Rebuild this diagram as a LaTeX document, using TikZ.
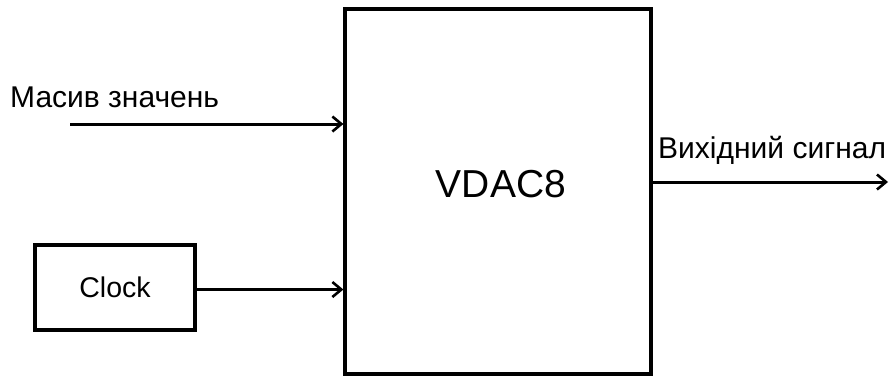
\documentclass[tikz,border=0pt]{standalone}
\usepackage{fontspec}
\setmainfont{Liberation Sans}
\usetikzlibrary{arrows.meta}
\begin{document}
\begin{tikzpicture}[x=1pt,y=-1pt,
  block/.style={draw, line width=3.2pt, inner sep=0pt},
  sig/.style={line width=3pt, -{Straight Barb[length=9pt,width=15pt,line width=2.6pt]}},
  lbl/.style={font=\fontsize{30}{36}\selectfont, inner sep=0pt},
  clklbl/.style={font=\fontsize{28.5}{34}\selectfont},
  big/.style={font=\fontsize{39}{46}\selectfont, inner sep=0pt}]
\useasboundingbox (0,0) rectangle (890,378);
% main converter block and its title
\node[block, minimum width=306pt, minimum height=365pt] (dac) at (498,191.5) {};
\node[big] (dactext) at (501,184) {VDAC8};
% clock source
\node[block, clklbl, minimum width=160pt, minimum height=85pt] (clk) at (115,287.5) {Clock};
% input and output signals
\coordinate (in) at (70,124);
\coordinate (out) at (888,182);
\draw[sig] (in) -- (in -| dac.west);
\draw[sig] ([yshift=-2pt]clk.east) -- ([yshift=-2pt]clk.east -| dac.west);
\draw[sig] (dac.east |- out) -- (out);
% signal names
\node[lbl, anchor=base west] (inlbl) at (10,107) {Масив значень};
\node[lbl, anchor=base west] (outlbl) at (658,158) {Вихідний сигнал};
\end{tikzpicture}
\end{document}
